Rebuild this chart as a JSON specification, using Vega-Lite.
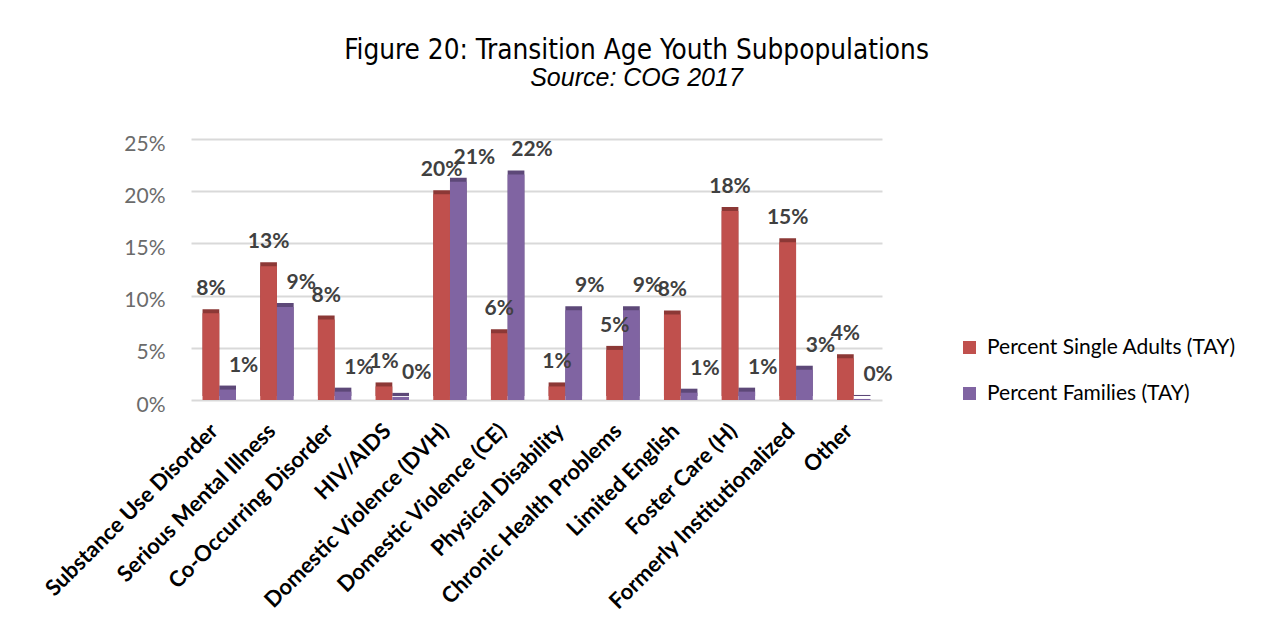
{
  "$schema": "https://vega.github.io/schema/vega-lite/v6.json",
  "autosize": {"type": "none"},
  "padding": {"left": 191, "top": 139, "right": 382, "bottom": 238},
  "width": 691,
  "height": 261,
  "background": "white",
  "title": {
    "text": "Figure 20: Transition Age Youth Subpopulations",
    "subtitle": "Source: COG 2017",
    "font": "DejaVu Sans Condensed",
    "fontSize": 27.7,
    "fontWeight": "normal",
    "color": "#000000",
    "subtitleFont": "Liberation Sans",
    "subtitleFontSize": 25,
    "subtitleFontStyle": "italic",
    "subtitleColor": "#000000",
    "subtitlePadding": 1,
    "anchor": "middle",
    "frame": "group",
    "dx": 100,
    "offset": 42
  },
  "data": {
    "values": [
      {"category": "Substance Use Disorder", "series": "Percent Single Adults (TAY)", "value": 0.083},
      {"category": "Substance Use Disorder", "series": "Percent Families (TAY)", "value": 0.010},
      {"category": "Serious Mental Illness", "series": "Percent Single Adults (TAY)", "value": 0.128},
      {"category": "Serious Mental Illness", "series": "Percent Families (TAY)", "value": 0.089},
      {"category": "Co-Occurring Disorder", "series": "Percent Single Adults (TAY)", "value": 0.077},
      {"category": "Co-Occurring Disorder", "series": "Percent Families (TAY)", "value": 0.008},
      {"category": "HIV/AIDS", "series": "Percent Single Adults (TAY)", "value": 0.013},
      {"category": "HIV/AIDS", "series": "Percent Families (TAY)", "value": 0.003},
      {"category": "Domestic Violence (DVH)", "series": "Percent Single Adults (TAY)", "value": 0.197},
      {"category": "Domestic Violence (DVH)", "series": "Percent Families (TAY)", "value": 0.209},
      {"category": "Domestic Violence (CE)", "series": "Percent Single Adults (TAY)", "value": 0.064},
      {"category": "Domestic Violence (CE)", "series": "Percent Families (TAY)", "value": 0.216},
      {"category": "Physical Disability", "series": "Percent Single Adults (TAY)", "value": 0.013},
      {"category": "Physical Disability", "series": "Percent Families (TAY)", "value": 0.086},
      {"category": "Chronic Health Problems", "series": "Percent Single Adults (TAY)", "value": 0.048},
      {"category": "Chronic Health Problems", "series": "Percent Families (TAY)", "value": 0.086},
      {"category": "Limited English", "series": "Percent Single Adults (TAY)", "value": 0.082},
      {"category": "Limited English", "series": "Percent Families (TAY)", "value": 0.007},
      {"category": "Foster Care (H)", "series": "Percent Single Adults (TAY)", "value": 0.181},
      {"category": "Foster Care (H)", "series": "Percent Families (TAY)", "value": 0.008},
      {"category": "Formerly Institutionalized", "series": "Percent Single Adults (TAY)", "value": 0.151},
      {"category": "Formerly Institutionalized", "series": "Percent Families (TAY)", "value": 0.029},
      {"category": "Other", "series": "Percent Single Adults (TAY)", "value": 0.040},
      {"category": "Other", "series": "Percent Families (TAY)", "value": 0.001}
    ]
  },
  "encoding": {
    "x": {
      "field": "category",
      "type": "nominal",
      "sort": null,
      "scale": {"paddingInner": 0.42, "paddingOuter": 0.2},
      "axis": {
        "title": null,
        "labelAngle": -45,
        "labelFont": "Lato",
        "labelFontWeight": "bold",
        "labelFontSize": 22,
        "labelColor": "#000000",
        "labelPadding": 20,
        "labelOffset": -12,
        "labelLimit": 500,
        "ticks": false,
        "domain": false,
        "grid": false
      }
    },
    "xOffset": {"field": "series", "type": "nominal", "sort": ["Percent Single Adults (TAY)", "Percent Families (TAY)"]},
    "y": {
      "field": "value",
      "type": "quantitative",
      "scale": {"domain": [0, 0.25], "nice": false},
      "axis": {
        "title": null,
        "values": [0, 0.05, 0.1, 0.15, 0.2, 0.25],
        "format": ".0%",
        "labelFont": "Lato",
        "labelFontSize": 21,
        "labelColor": "#6b6b6b",
        "labelPadding": 26,
        "labelOffset": 5,
        "ticks": false,
        "domain": false,
        "grid": true,
        "gridColor": "#d9d9d9",
        "gridWidth": 2
      }
    }
  },
  "layer": [
    {
      "mark": {"type": "bar", "xOffset": 4, "yOffset": -4},
      "encoding": {
        "color": {
          "condition": {"test": "datum.series === 'Percent Single Adults (TAY)'", "value": "#8C3836"},
          "value": "#5D4878"
        }
      }
    },
    {
      "mark": {"type": "bar"},
      "encoding": {
        "color": {
          "field": "series",
          "type": "nominal",
          "sort": ["Percent Single Adults (TAY)", "Percent Families (TAY)"],
          "scale": {"domain": ["Percent Single Adults (TAY)", "Percent Families (TAY)"], "range": ["#C0504D", "#8064A2"]},
          "legend": {
            "title": null,
            "orient": "none",
            "legendX": 768,
            "legendY": 198,
            "symbolType": "square",
            "symbolSize": 169,
            "symbolStrokeWidth": 0,
            "labelFont": "Lato",
            "labelFontSize": 21,
            "labelColor": "#000000",
            "labelOffset": 7,
            "rowPadding": 24,
            "padding": 0,
            "labelLimit": 400
          }
        }
      }
    },
    {
      "transform": [{"filter": "datum.series === 'Percent Single Adults (TAY)'"}],
      "mark": {"type": "text", "font": "Lato", "fontWeight": "bold", "fontSize": 21, "color": "#404040", "baseline": "middle", "dy": -24},
      "encoding": {"text": {"field": "value", "type": "quantitative", "format": ".0%"}}
    },
    {
      "transform": [{"filter": "datum.series === 'Percent Families (TAY)'"}],
      "mark": {"type": "text", "font": "Lato", "fontWeight": "bold", "fontSize": 21, "color": "#404040", "baseline": "middle", "dy": -24, "dx": 16},
      "encoding": {"text": {"field": "value", "type": "quantitative", "format": ".0%"}}
    }
  ],
  "config": {"view": {"stroke": null}}
}
